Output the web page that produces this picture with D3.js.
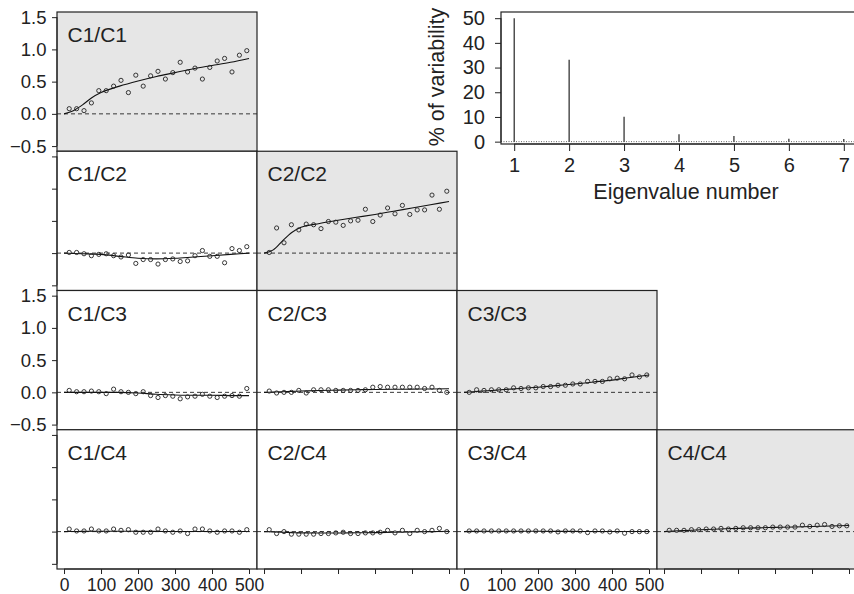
<!DOCTYPE html>
<html>
<head>
<meta charset="utf-8">
<script src="https://cdn.jsdelivr.net/npm/d3@7"></script>
<style>
  body { margin: 0; background: #fff; }
  text { font-family: "Liberation Sans", Arial, Helvetica, sans-serif; fill: #222; }
</style>
</head>
<body>
<script>
var width = 854,
    height = 594;

// lag distances of the experimental points
var lags = [14, 34, 54, 74, 94, 114, 134, 154, 174, 194, 214, 234, 254,
            274, 294, 314, 334, 354, 374, 394, 414, 434, 454, 474, 494];
var modelLags = [0, 25, 50, 75, 100, 150, 200, 250, 300, 350, 400, 450, 500];

var c1c1 = [0.08, 0.08, 0.05, 0.17, 0.36, 0.36, 0.43, 0.52, 0.33, 0.60, 0.43, 0.59, 0.66,
            0.54, 0.64, 0.80, 0.65, 0.71, 0.54, 0.72, 0.82, 0.86, 0.65, 0.91, 0.98];
var c1c1Fit = [0, 0.05, 0.14, 0.25, 0.33, 0.43, 0.51, 0.58, 0.64, 0.70, 0.75, 0.80, 0.86];

var c1c2 = [0.01, 0.01, -0.01, -0.04, -0.02, -0.01, -0.04, -0.06, -0.03, -0.16, -0.10, -0.10, -0.17,
            -0.10, -0.09, -0.13, -0.12, -0.04, 0.04, -0.05, -0.05, -0.15, 0.07, 0.04, 0.10];
var c1c2Fit = [0, -0.005, -0.01, -0.015, -0.02, -0.05, -0.08, -0.09, -0.08, -0.06, -0.04, -0.02, 0];

var c2c2 = [0.01, 0.39, 0.16, 0.44, 0.36, 0.45, 0.44, 0.38, 0.49, 0.48, 0.43, 0.50, 0.51,
            0.68, 0.49, 0.59, 0.70, 0.61, 0.74, 0.60, 0.67, 0.67, 0.90, 0.68, 0.96];
var c2c2Fit = [0, 0.05, 0.19, 0.32, 0.40, 0.46, 0.51, 0.555, 0.60, 0.65, 0.70, 0.75, 0.80];

var c1c3 = [0.03, 0.01, 0.01, 0.02, 0.01, -0.02, 0.05, 0.01, 0, -0.02, 0.01, -0.05, -0.08,
            -0.05, -0.06, -0.10, -0.07, -0.06, -0.03, -0.06, -0.08, -0.06, -0.05, -0.06, 0.06];
var c1c3Fit = [0, 0, 0, 0, 0, 0, -0.01, -0.03, -0.04, -0.045, -0.045, -0.05, -0.05];

var c2c3 = [0.02, -0.01, 0, 0, 0.03, -0.01, 0.04, 0.04, 0.04, 0.03, 0.03, 0.03, 0.03,
            0.04, 0.08, 0.09, 0.08, 0.08, 0.08, 0.08, 0.08, 0.06, 0.08, 0.03, 0];
var c2c3Fit = [0, 0.005, 0.01, 0.015, 0.02, 0.03, 0.035, 0.04, 0.045, 0.048, 0.05, 0.053, 0.055];

var c3c3 = [0, 0.04, 0.03, 0.04, 0.04, 0.04, 0.07, 0.06, 0.07, 0.07, 0.09, 0.09, 0.11,
            0.11, 0.13, 0.13, 0.17, 0.17, 0.17, 0.21, 0.22, 0.21, 0.27, 0.24, 0.27];
var c3c3Fit = [0, 0.01, 0.02, 0.03, 0.04, 0.06, 0.08, 0.105, 0.13, 0.16, 0.19, 0.23, 0.27];

var c1c4 = [0.04, 0.01, 0.01, 0.04, 0.01, 0.01, 0.04, 0.02, 0.03, -0.01, -0.01, -0.01, 0.04,
            0.01, -0.01, 0.01, -0.03, 0.04, 0.04, 0.01, -0.01, 0.01, 0.01, -0.01, 0.03];
var c1c4Fit = [0, 0.002, 0.004, 0.005, 0.005, 0.005, 0.004, 0.003, 0.002, 0.002, 0.002, 0.002, 0.002];

var c2c4 = [0.03, -0.03, 0, -0.04, -0.04, -0.04, -0.04, -0.03, -0.03, -0.02, -0.01, -0.03, -0.03,
            -0.02, -0.02, -0.01, 0.02, -0.02, 0.02, -0.03, 0.02, 0, 0.02, 0.05, 0];
var c2c4Fit = [0, -0.005, -0.01, -0.015, -0.02, -0.022, -0.022, -0.018, -0.015, -0.01, -0.005, 0, 0.005];

var c3c4 = [0.01, 0.01, 0.01, 0.01, 0.01, 0.01, 0.01, 0.01, 0.01, 0.01, 0.01, 0.01, -0.005,
            0.01, 0.01, 0.01, -0.015, 0.01, 0.01, -0.005, 0.01, -0.025, 0, 0, 0];
var c3c4Fit = [0, 0.003, 0.005, 0.005, 0.005, 0.005, 0.005, 0.004, 0.003, 0.002, 0.002, 0.002, 0.002];

var c4c4 = [0.02, 0.02, 0.02, 0.03, 0.03, 0.04, 0.04, 0.05, 0.04, 0.05, 0.06, 0.06, 0.06,
            0.06, 0.07, 0.07, 0.07, 0.07, 0.10, 0.08, 0.10, 0.11, 0.08, 0.09, 0.09];
var c4c4Fit = [0, 0.01, 0.015, 0.022, 0.03, 0.04, 0.05, 0.058, 0.065, 0.072, 0.08, 0.087, 0.095];

// inset: eigenvalue spectrum
var eigenNum = [1, 2, 3, 4, 5, 6, 7];
var pctVar = [50, 33.2, 10.1, 3.0, 2.3, 1.2, 1.1];

var yTicks = [-0.5, 0, 0.5, 1, 1.5];
var xTicks = [0, 100, 200, 300, 400, 500];
var insetYTicks = [0, 10, 20, 30, 40, 50];

var panels = [
    {name: "C1/C1", row: 0, col: 0, pts: c1c1, fit: c1c1Fit},
    {name: "C1/C2", row: 1, col: 0, pts: c1c2, fit: c1c2Fit},
    {name: "C2/C2", row: 1, col: 1, pts: c2c2, fit: c2c2Fit},
    {name: "C1/C3", row: 2, col: 0, pts: c1c3, fit: c1c3Fit},
    {name: "C2/C3", row: 2, col: 1, pts: c2c3, fit: c2c3Fit},
    {name: "C3/C3", row: 2, col: 2, pts: c3c3, fit: c3c3Fit},
    {name: "C1/C4", row: 3, col: 0, pts: c1c4, fit: c1c4Fit},
    {name: "C2/C4", row: 3, col: 1, pts: c2c4, fit: c2c4Fit},
    {name: "C3/C4", row: 3, col: 2, pts: c3c4, fit: c3c4Fit},
    {name: "C4/C4", row: 3, col: 3, pts: c4c4, fit: c4c4Fit}
];

var marginLeft = 57, marginTop = 12,
    pw = 200, ph = 139.25;

var svg = d3.select("body").append("svg")
    .attr("width", width)
    .attr("height", height);

var x = d3.scaleLinear().domain([-19, 521.6]).range([0, pw]);
var y = d3.scaleLinear().domain([-0.58, 1.58]).range([ph, 0]);

var fitLine = d3.line()
    .x(function(d) { return x(d[0]); })
    .y(function(d) { return y(d[1]); })
    .curve(d3.curveMonotoneX);

panels.forEach(function(p) {
    var g = svg.append("g")
        .attr("transform", "translate(" + (marginLeft + p.col * pw) + "," + (marginTop + p.row * ph) + ")");
    var diag = p.row == p.col;

    g.append("rect")
        .attr("width", pw)
        .attr("height", ph)
        .attr("fill", diag ? "#e6e6e6" : "#fff");

    g.append("line")
        .attr("x1", 0).attr("x2", pw)
        .attr("y1", y(0)).attr("y2", y(0))
        .attr("stroke", "#222")
        .attr("stroke-width", 0.9)
        .attr("stroke-dasharray", "4,3");

    g.append("path")
        .datum(modelLags.map(function(l, i) { return [l, p.fit[i]]; }))
        .attr("d", fitLine)
        .attr("fill", "none")
        .attr("stroke", "#111")
        .attr("stroke-width", 1.1);

    g.selectAll(".pt")
        .data(lags.map(function(l, i) { return [l, p.pts[i]]; }))
        .enter().append("circle")
        .attr("class", "pt")
        .attr("cx", function(d) { return x(d[0]); })
        .attr("cy", function(d) { return y(d[1]); })
        .attr("r", 2.1)
        .attr("fill", "none")
        .attr("stroke", "#222")
        .attr("stroke-width", 0.9);

    g.append("text")
        .attr("x", 10.5)
        .attr("y", 30)
        .style("font-size", "21px")
        .text(p.name);

    g.append("rect")
        .attr("width", pw)
        .attr("height", ph)
        .attr("fill", "none")
        .attr("stroke", "#222")
        .attr("stroke-width", 1.2);

    // left axis only on first column
    if (p.col == 0) {
        var ya = g.append("g")
            .call(d3.axisLeft(y).tickValues(yTicks).tickSize(5).tickSizeOuter(0).tickPadding(5.5)
                .tickFormat(p.row % 2 == 0 ? d3.format(".1f") : function() { return ""; }));
        ya.select(".domain").attr("d", "M0," + y(-0.5) + "V" + y(1.5)).attr("stroke", "#222");
        ya.selectAll("line").attr("stroke", "#222");
        ya.selectAll("text").style("font-size", "18.5px").style("font-family", null);
    }
    // bottom axis only on last row
    if (p.row == 3) {
        var xa = g.append("g")
            .attr("transform", "translate(0," + ph + ")")
            .call(d3.axisBottom(x).tickValues(xTicks).tickSize(5).tickSizeOuter(0).tickPadding(4.5)
                .tickFormat(p.col % 2 == 0 ? d3.format("d") : function() { return ""; }));
        xa.select(".domain").attr("d", "M" + x(0) + ",0H" + x(500)).attr("stroke", "#222");
        xa.selectAll("line").attr("stroke", "#222");
        xa.selectAll("text").style("font-size", "17.5px").style("font-family", null);
    }
});

// inset
var ix0 = 501, ix1 = 857, iy0 = 12, iy1 = 144;
var ix = d3.scaleLinear().domain([0.76, 7.24]).range([ix0, ix1]);
var iy = d3.scaleLinear().domain([-0.95, 52.5]).range([iy1, iy0]);

var inset = svg.append("g");

inset.append("rect")
    .attr("x", ix0).attr("y", iy0)
    .attr("width", ix1 - ix0).attr("height", iy1 - iy0)
    .attr("fill", "#fff");

inset.append("line")
    .attr("x1", ix0).attr("x2", ix1)
    .attr("y1", iy(0)).attr("y2", iy(0))
    .attr("stroke", "#666")
    .attr("stroke-width", 1)
    .attr("stroke-dasharray", "1,1.5");

inset.selectAll(".bar")
    .data(eigenNum)
    .enter().append("line")
    .attr("class", "bar")
    .attr("x1", function(d) { return ix(d); })
    .attr("x2", function(d) { return ix(d); })
    .attr("y1", iy(0))
    .attr("y2", function(d, i) { return iy(pctVar[i]); })
    .attr("stroke", "#111")
    .attr("stroke-width", 1.1);

inset.append("rect")
    .attr("x", ix0).attr("y", iy0)
    .attr("width", ix1 - ix0).attr("height", iy1 - iy0)
    .attr("fill", "none")
    .attr("stroke", "#222")
    .attr("stroke-width", 1.2);

var iya = inset.append("g")
    .attr("transform", "translate(" + ix0 + ",0)")
    .call(d3.axisLeft(iy).tickValues(insetYTicks).tickSize(6).tickSizeOuter(0).tickPadding(10));
iya.select(".domain").attr("d", "M0," + iy(0) + "V" + iy(50)).attr("stroke", "#222");
iya.selectAll("line").attr("stroke", "#222");
iya.selectAll("text").style("font-size", "20px").style("font-family", null);

var ixa = inset.append("g")
    .attr("transform", "translate(0," + iy1 + ")")
    .call(d3.axisBottom(ix).tickValues(eigenNum).tickSize(7).tickSizeOuter(0).tickPadding(6.5).tickFormat(d3.format("d")));
ixa.select(".domain").attr("d", "M" + ix(1) + ",0H" + ix(7)).attr("stroke", "#222");
ixa.selectAll("line").attr("stroke", "#222");
ixa.selectAll("text").style("font-size", "20px").style("font-family", null);

inset.append("text")
    .attr("transform", "translate(444,77) rotate(-90)")
    .attr("text-anchor", "middle")
    .style("font-size", "21.5px")
    .text("% of variability");

inset.append("text")
    .attr("x", 686)
    .attr("y", 199)
    .attr("text-anchor", "middle")
    .style("font-size", "21.5px")
    .text("Eigenvalue number");
</script>
</body>
</html>
